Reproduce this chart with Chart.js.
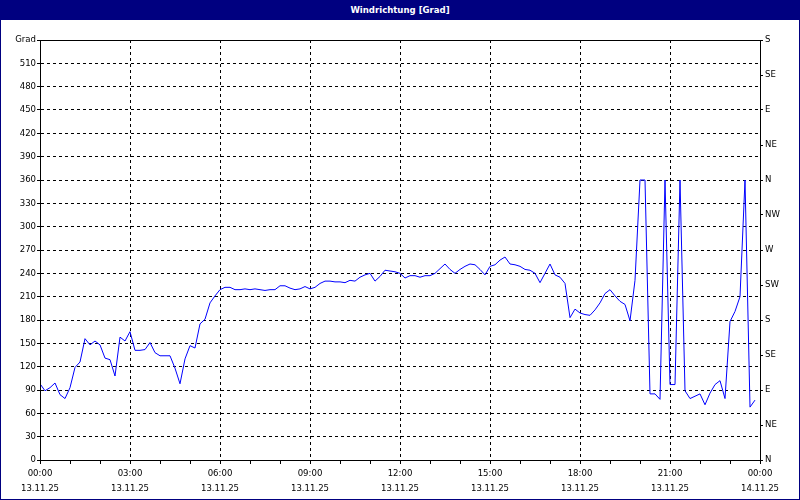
<!DOCTYPE html>
<html>
<head>
<meta charset="utf-8">
<script src="https://cdn.jsdelivr.net/npm/chart.js@4.4.1/dist/chart.umd.min.js"></script>
<style>
  html, body { margin: 0; padding: 0; background: #fff; }
  #frame {
    position: absolute; left: 0; top: 0; width: 800px; height: 500px;
    box-sizing: border-box; border: 1px solid #000080; background: #fff;
  }
  #title {
    position: absolute; left: 0; top: 0; width: 800px; height: 20px;
    background: #000080; color: #fff; text-align: center;
    font: bold 9.5px "DejaVu Sans Condensed", "DejaVu Sans", sans-serif; line-height: 20px;
  }
  #wrap { position: absolute; left: 0; top: 20px; width: 800px; height: 480px; }
</style>
</head>
<body>
<div id="frame"></div>
<div id="title">Windrichtung [Grad]</div>
<div id="wrap"><canvas id="chart"></canvas></div>
<script>
// wind direction in degrees, one reading every 10 minutes from 13.11.25 00:00
const stepMinutes = 10;
const windDir = [
  98, 89, 93, 99, 84, 79, 93, 119, 126, 156, 148, 153,
  148, 131, 129, 108, 158, 153, 165, 141, 141, 142, 151, 138,
  134, 134, 134, 118, 98, 130, 147, 144, 175, 181, 202, 211,
  219, 222, 222, 219, 219, 220, 219, 220, 219, 218, 219, 219,
  224, 224, 221, 219, 220, 223, 220, 222, 227, 230, 230, 229,
  229, 228, 231, 230, 235, 238, 240, 230, 236, 244, 243, 242,
  240, 234, 237, 237, 235, 237, 237, 240, 246, 252, 245, 240,
  245, 249, 252, 251, 245, 238, 249, 251, 257, 261, 252, 251,
  249, 245, 244, 240, 228, 240, 252, 238, 235, 227, 183, 194,
  189, 187, 186, 193, 202, 214, 219, 211, 204, 200, 179, 231,
  360, 360, 85, 85, 78, 360, 97, 97, 360, 89, 79, 82,
  85, 71, 86, 97, 102, 79, 178, 191, 210, 360, 68, 77
];

const xTickTimes = ["00:00", "03:00", "06:00", "09:00", "12:00", "15:00", "18:00", "21:00", "00:00"];
const xTickDates = ["13.11.25", "13.11.25", "13.11.25", "13.11.25", "13.11.25", "13.11.25", "13.11.25", "13.11.25", "14.11.25"];
const compassLabels = ["N", "NE", "E", "SE", "S", "SW", "W", "NW", "N", "NE", "E", "SE", "S"];
const yAxisTitle = "Grad";

const points = windDir.map((v, i) => ({ x: i * stepMinutes, y: v }));

const font = { family: '"DejaVu Sans Condensed", "DejaVu Sans", sans-serif', size: 9.5 };

// solid frame round the plot area
const plotFrame = {
  id: "plotFrame",
  afterDraw(chart) {
    const { left, top, right, bottom } = chart.chartArea;
    const ctx = chart.ctx;
    ctx.save();
    ctx.strokeStyle = "#000";
    ctx.lineWidth = 1;
    ctx.setLineDash([]);
    ctx.strokeRect(Math.round(left) + 0.5, Math.round(top) + 0.5, Math.round(right - left), Math.round(bottom - top));
    ctx.restore();
  },
};

new Chart("chart", {
  type: "line",
  data: {
    datasets: [{
      data: points,
      borderColor: "#0000ff",
      borderWidth: 1,
      pointRadius: 0,
      fill: false,
      tension: 0,
    }],
  },
  options: {
    responsive: true,
    maintainAspectRatio: false,
    animation: false,
    layout: { padding: { top: 20, left: 0, right: 0, bottom: 0 } },
    plugins: { legend: { display: false }, tooltip: { enabled: false } },
    scales: {
      x: {
        type: "linear",
        min: 0,
        max: 1440,
        afterFit: (s) => { s.height = 40; },
        ticks: {
          stepSize: 60,
          autoSkip: false,
          maxRotation: 0,
          padding: 2,
          color: "#000",
          font: { ...font, lineHeight: 1.58 },
          callback: (v) => {
            if (v % 180 !== 0) return "";
            const i = v / 180;
            return [xTickTimes[i], xTickDates[i]];
          },
        },
        grid: {
          color: (c) => (c.tick && c.tick.value % 180 === 0 ? "#000" : "rgba(0,0,0,0)"),
          tickColor: "#000",
          tickLength: 4,
        },
        border: { color: "#000", dash: [3, 3] },
      },
      y: {
        position: "left",
        min: 0,
        max: 540,
        afterFit: (s) => { s.width = 40; },
        ticks: {
          stepSize: 30,
          padding: 1,
          color: "#000",
          font: font,
          callback: (v) => (v === 540 ? yAxisTitle : String(v)),
        },
        grid: { color: "#000", tickColor: "#000", tickLength: 3 },
        border: { color: "#000", dash: [3, 3] },
      },
      y2: {
        position: "right",
        min: 0,
        max: 540,
        afterFit: (s) => { s.width = 40; },
        ticks: {
          stepSize: 45,
          padding: 2,
          color: "#000",
          font: font,
          callback: (v) => compassLabels[Math.round(v / 45)],
        },
        grid: { drawOnChartArea: false, color: "#000", tickColor: "#000", tickLength: 3 },
        border: { color: "#000" },
      },
    },
  },
  plugins: [plotFrame],
});
</script>
</body>
</html>
